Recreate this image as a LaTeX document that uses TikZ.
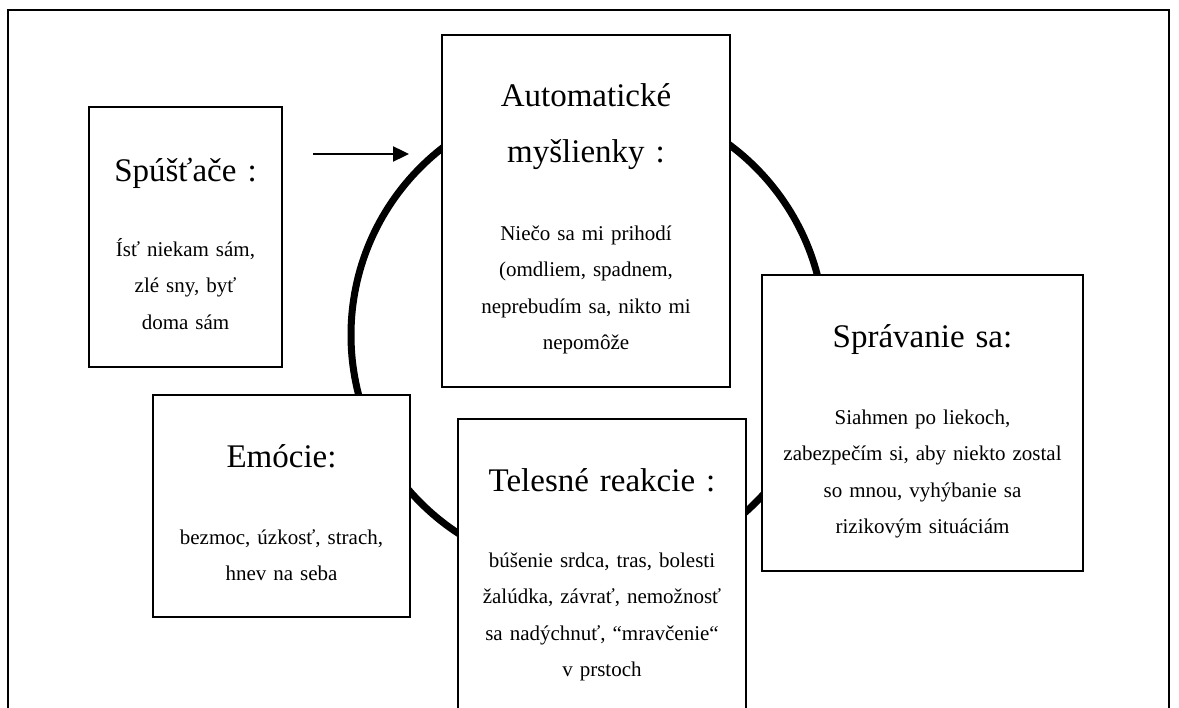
\documentclass[tikz,border=0pt]{standalone}
\usepackage{fontspec}
\setmainfont{Liberation Serif}
\usetikzlibrary{positioning,arrows.meta}

\begin{document}
\begin{tikzpicture}[x=1pt, y=-1pt,
    box/.style={draw, rectangle, fill=white, line width=1.6pt, inner sep=0pt},
    title/.style={anchor=base, align=center, text width=300pt, inner sep=0pt, font=\fontsize{33}{56}\selectfont},
    body/.style={anchor=base, align=center, text width=330pt, inner sep=0pt, font=\fontsize{21}{36.5}\selectfont}]
    \path[use as bounding box] (0,0) rectangle (1179,708);
    \clip (0,0) rectangle (1179,708);
    \draw[line width=2.2pt] (8,10) rectangle (1169,730);
    \draw[line width=7pt] (588,335) circle (237pt);

    \node[box, minimum width=193pt, minimum height=260pt] (spust) at (185.5,237) {};
    \node[box, minimum width=288pt, minimum height=352pt] (myslienky) at (586,211) {};
    \node[box, minimum width=321pt, minimum height=296pt] (spravanie) at (922.5,423) {};
    \node[box, minimum width=257pt, minimum height=222pt] (emocie) at (281.5,506) {};
    \node[box, minimum width=288pt, minimum height=360pt] (telesne) at (602,599) {};

    \node[title] (spust-t) at ([yshift=-75pt]spust.north) {Spúšťače :};
    \node[body] (spust-b) at ([yshift=-150pt]spust.north) {Ísť niekam sám,\\zlé sny, byť\\doma sám};

    \node[title] (myslienky-t) at ([yshift=-72pt]myslienky.north) {Automatické\\myšlienky :};
    \node[body] (myslienky-b) at ([yshift=-206pt]myslienky.north) {Niečo sa mi prihodí\\(omdliem, spadnem,\\neprebudím sa, nikto mi\\nepomôže};

    \node[title] (spravanie-t) at ([yshift=-73pt]spravanie.north) {Správanie sa:};
    \node[body] (spravanie-b) at ([yshift=-150pt]spravanie.north) {Siahmen po liekoch,\\zabezpečím si, aby niekto zostal\\so mnou, vyhýbanie sa\\rizikovým situáciám};

    \node[title] (emocie-t) at ([yshift=-73pt]emocie.north) {Emócie:};
    \node[body] (emocie-b) at ([yshift=-150pt]emocie.north) {bezmoc, úzkosť, strach,\\hnev na seba};

    \node[title] (telesne-t) at ([yshift=-73pt]telesne.north) {Telesné reakcie :};
    \node[body] (telesne-b) at ([yshift=-149pt]telesne.north) {búšenie srdca, tras, bolesti\\žalúdka, závrať, nemožnosť\\sa nadýchnuť, “mravčenie“\\v prstoch};

    \coordinate (sipka-z) at (313,154);
    \coordinate (sipka-k) at (409,154);
    \draw[-{Triangle[length=16pt,width=15pt]}, line width=2.4pt] (sipka-z) -- (sipka-k);
\end{tikzpicture}
\end{document}
